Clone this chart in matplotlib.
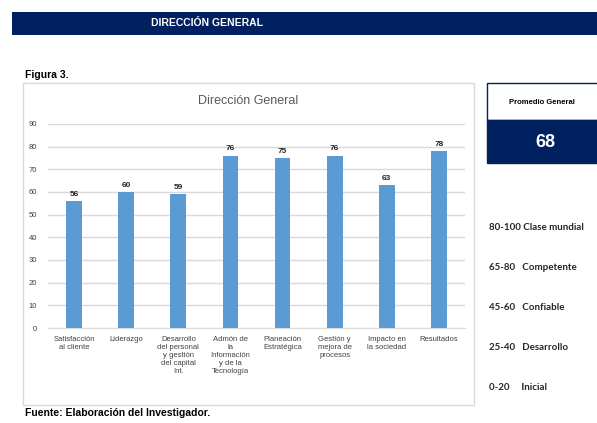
import matplotlib.pyplot as plt
from matplotlib.patches import Rectangle

categorias = ["Satisfacción\nal cliente", "Liderazgo",
              "Desarrollo\ndel personal\ny gestión\ndel capital\nInt.",
              "Admón de\nla\nInformación\ny de la\nTecnología",
              "Planeación\nEstratégica", "Gestión y\nmejora de\nprocesos",
              "Impacto en\nla sociedad", "Resultados"]
valores = [56, 60, 59, 76, 75, 76, 63, 78]
promedio = 68
niveles = ["80-100 Clase mundial", "65-80   Competente", "45-60   Confiable",
           "25-40   Desarrollo", "0-20     Inicial"]

W, H = 597, 423
NAVY = "#002060"
BLUE = "#5b9bd5"

plt.rcParams['font.family'] = ['Liberation Sans', 'DejaVu Sans']
fig = plt.figure(figsize=(W / 100, H / 100), dpi=100)


def px(x, y):
    return x / W, 1 - y / H


def caja(x0, y0, x1, y1, **kw):
    fig.patches.append(Rectangle((x0 / W, 1 - y1 / H), (x1 - x0) / W, (y1 - y0) / H,
                                 transform=fig.transFigure, zorder=-1, **kw))


# barra de encabezado
caja(12, 12, 600, 35, facecolor=NAVY, edgecolor="none")
fig.text(*px(207, 23), "DIRECCIÓN GENERAL", color="white", fontsize=7.5,
         fontweight="bold", ha="center", va="center")

fig.text(*px(25, 75), "Figura 3.", fontsize=7.5, fontweight="bold", ha="left", va="center")
fig.text(*px(25, 413), "Fuente: Elaboración del Investigador.", fontsize=7.5,
         fontweight="bold", ha="left", va="center")

# marco del grafico
caja(23, 83, 474, 405, facecolor="white", edgecolor="#d9d9d9", linewidth=1)

ax = fig.add_axes([48 / W, 95 / H, 417 / W, 204 / H])
ax.set_zorder(2)
ax.patch.set_alpha(0)
x = range(len(valores))
bars = ax.bar(x, valores, width=0.3, color=BLUE, zorder=3)
for b, v in zip(bars, valores):
    ax.text(b.get_x() + b.get_width() / 2, v + 1.5, str(v), ha="center", va="bottom",
            fontsize=6, fontweight="bold", color="#262626")
ax.set_xlim(-0.5, len(valores) - 0.5)
ax.set_ylim(0, 90)
ax.set_yticks(range(0, 91, 10))
ax.yaxis.grid(True, color="#d9d9d9", linewidth=1, zorder=0)
ax.set_xticks(list(x))
ax.set_xticklabels(categorias, fontsize=5.5, color="#404040", linespacing=1.2)
ax.tick_params(axis="y", labelsize=5.5, colors="#404040", length=0, pad=8)
ax.tick_params(axis="x", length=0, pad=6)
for s in ["top", "right", "left"]:
    ax.spines[s].set_visible(False)
ax.spines["bottom"].set_color("#d9d9d9")
fig.text(*px(248, 101), "Dirección General", fontsize=9, color="#595959",
         ha="center", va="center")

# promedio general
caja(487, 83, 600, 120, facecolor="white", edgecolor=NAVY, linewidth=1)
caja(487, 120, 600, 163, facecolor=NAVY, edgecolor=NAVY, linewidth=1)
fig.text(*px(542, 102), "Promedio General", fontsize=5.5, fontweight="bold",
         ha="center", va="center")
fig.text(*px(545, 142), str(promedio), fontsize=13, fontweight="bold", color="white",
         ha="center", va="center")

for i, n in enumerate(niveles):
    fig.text(*px(489, 227 + i * 40), n, fontsize=7, fontweight="bold",
             ha="left", va="center", color="#262626", family=["Lato", "DejaVu Sans"])

fig.savefig("out.png", dpi=100)
